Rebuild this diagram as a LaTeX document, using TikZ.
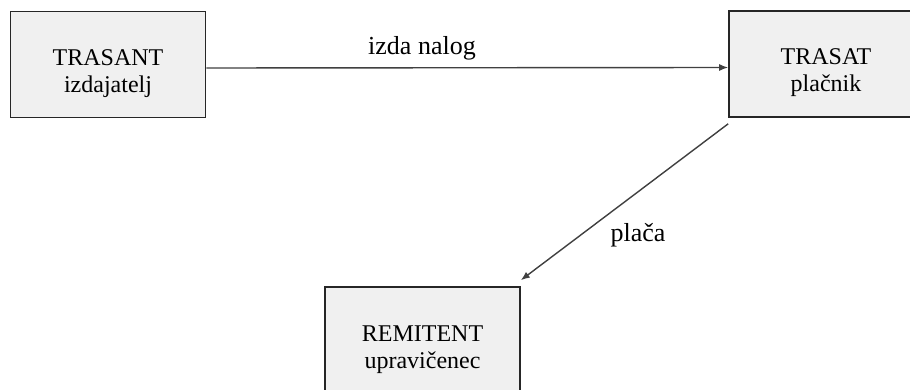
\documentclass[tikz,border=0pt]{standalone}
\usepackage{fontspec}
\setmainfont{Liberation Serif}
\usetikzlibrary{arrows.meta}
\begin{document}
\begin{tikzpicture}[x=1pt,y=-1pt,
  party/.style={draw=black!85, line width=1.6pt, fill=black!6, minimum width=195pt, minimum height=106pt, inner sep=0pt},
  partytext/.style={align=center, font=\fontsize{24}{27}\selectfont, inner sep=0pt},
  conn/.style={draw=black!75, line width=1.4pt, -{Latex[length=9pt,width=7pt]}},
  lbl/.style={font=\fontsize{26}{30}\selectfont, inner sep=0pt, anchor=base}]
\clip (0,0) rectangle (910,390);
\fill[white] (0,0) rectangle (910,390);
\node[party] (trasant) at (108,64.5) {};
\node[partytext] (trasanttxt) at ([yshift=-9pt]trasant.center) {TRASANT\\izdajatelj};
\node[party, minimum width=220pt] (trasat) at (839,64) {};
\node[partytext] (trasattxt) at ([xshift=-13pt,yshift=-9pt]trasat.center) {TRASAT\\plačnik};
\node[party, minimum height=120pt] (remitent) at (422.5,347) {};
\node[partytext] (remitenttxt) at ([yshift=-2.5pt]remitent.center) {REMITENT\\upravičenec};
\draw[conn] ([yshift=-3.5pt]trasant.east) -- ([yshift=-3.5pt]trasat.west);
\draw[conn] ([yshift=-6pt]trasat.south west) -- ([yshift=6pt]remitent.north east);
\node[lbl] (nalog) at (422,55) {izda nalog};
\node[lbl] (placa) at (638,241) {plača};
\end{tikzpicture}
\end{document}
